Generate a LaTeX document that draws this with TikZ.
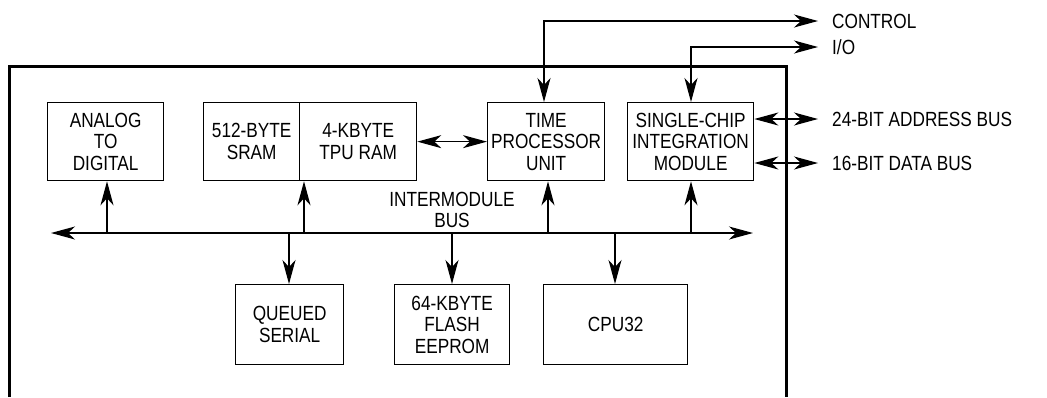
\documentclass[tikz,border=0pt]{standalone}
\usepackage{fontspec}
\setmainfont[FakeStretch=0.84]{Liberation Sans}
\usetikzlibrary{arrows.meta}
\begin{document}
\begin{tikzpicture}[x=1pt,y=-1pt,
  every node/.style={font=\fontsize{20.5}{21.5}\selectfont},
  blk/.style={draw,line width=1.3pt,rectangle,align=center,inner sep=0pt,anchor=north west},
  lbl/.style={anchor=west,inner sep=0pt},
  ln/.style={line width=1.3pt},
  tip/.style={-{Stealth[length=24pt,width=13pt,inset=7pt]}},
  dtip/.style={{Stealth[length=24pt,width=13pt,inset=7pt]}-{Stealth[length=24pt,width=13pt,inset=7pt]}}]
\useasboundingbox (0,0) rectangle (1047,397);
% outer frame
\draw[line width=3pt] (9,397) -- (9,66) -- (786.5,66) -- (786.5,397);
% upper blocks
\node[blk,minimum width=116pt,minimum height=78pt] (ad) at (47,102) {ANALOG\\TO\\DIGITAL};
\node[blk,minimum width=96pt,minimum height=78pt] (sram) at (203,102) {512-BYTE\\SRAM};
\node[blk,minimum width=117pt,minimum height=78pt] (tram) at (299,102) {4-KBYTE\\TPU RAM};
\node[blk,minimum width=117pt,minimum height=78pt] (tpu) at (487,102) {TIME\\PROCESSOR\\UNIT};
\node[blk,minimum width=126pt,minimum height=78pt] (sim) at (627,102) {SINGLE-CHIP\\INTEGRATION\\MODULE};
% lower blocks
\node[blk,minimum width=108pt,minimum height=80pt] (qs) at (235,284) {QUEUED\\SERIAL};
\node[blk,minimum width=115pt,minimum height=80pt] (fl) at (394,284) {64-KBYTE\\FLASH\\EEPROM};
\node[blk,minimum width=144pt,minimum height=80pt] (cpu) at (543,284) {CPU32};
% bus
\coordinate (busL) at (51,233);
\coordinate (busR) at (753,233);
\draw[ln,dtip] (busL) -- (busR);
\node[align=center,inner sep=0pt] (buslbl) at (452,210) {INTERMODULE\\BUS};
% bus taps
\coordinate (t1) at (107,233);
\coordinate (t2) at (304,233);
\coordinate (t3) at (548,233);
\coordinate (t4) at (691,233);
\coordinate (d1) at (289,233);
\coordinate (d2) at (452,233);
\coordinate (d3) at (615,233);
\draw[ln,tip] (t1) -- (t1 |- ad.south);
\draw[ln,tip] (t2) -- (t2 |- tram.south);
\draw[ln,tip] (t3) -- (t3 |- tpu.south);
\draw[ln,tip] (t4) -- (t4 |- sim.south);
\draw[ln,tip] (d1) -- (d1 |- qs.north);
\draw[ln,tip] (d2) -- (d2 |- fl.north);
\draw[ln,tip] (d3) -- (d3 |- cpu.north);
% RAM <-> TPU
\draw[ln,dtip] (tram.east) -- (tpu.west);
% external signals
\coordinate (ctrl) at (818,21);
\coordinate (io) at (818,47);
\coordinate (addr) at (818,119);
\coordinate (data) at (818,163);
\draw[ln,dtip] (tpu.north -| 544,0) |- (ctrl);
\draw[ln,dtip] (sim.north -| 691,0) |- (io);
\draw[ln,dtip] (addr -| sim.east) -- (addr);
\draw[ln,dtip] (data -| sim.east) -- (data);
\node[lbl] (lc) at (832,21) {CONTROL};
\node[lbl] (li) at (832,47) {I/O};
\node[lbl] (la) at (832,119) {24-BIT ADDRESS BUS};
\node[lbl] (ld) at (832,163) {16-BIT DATA BUS};
\end{tikzpicture}
\end{document}
